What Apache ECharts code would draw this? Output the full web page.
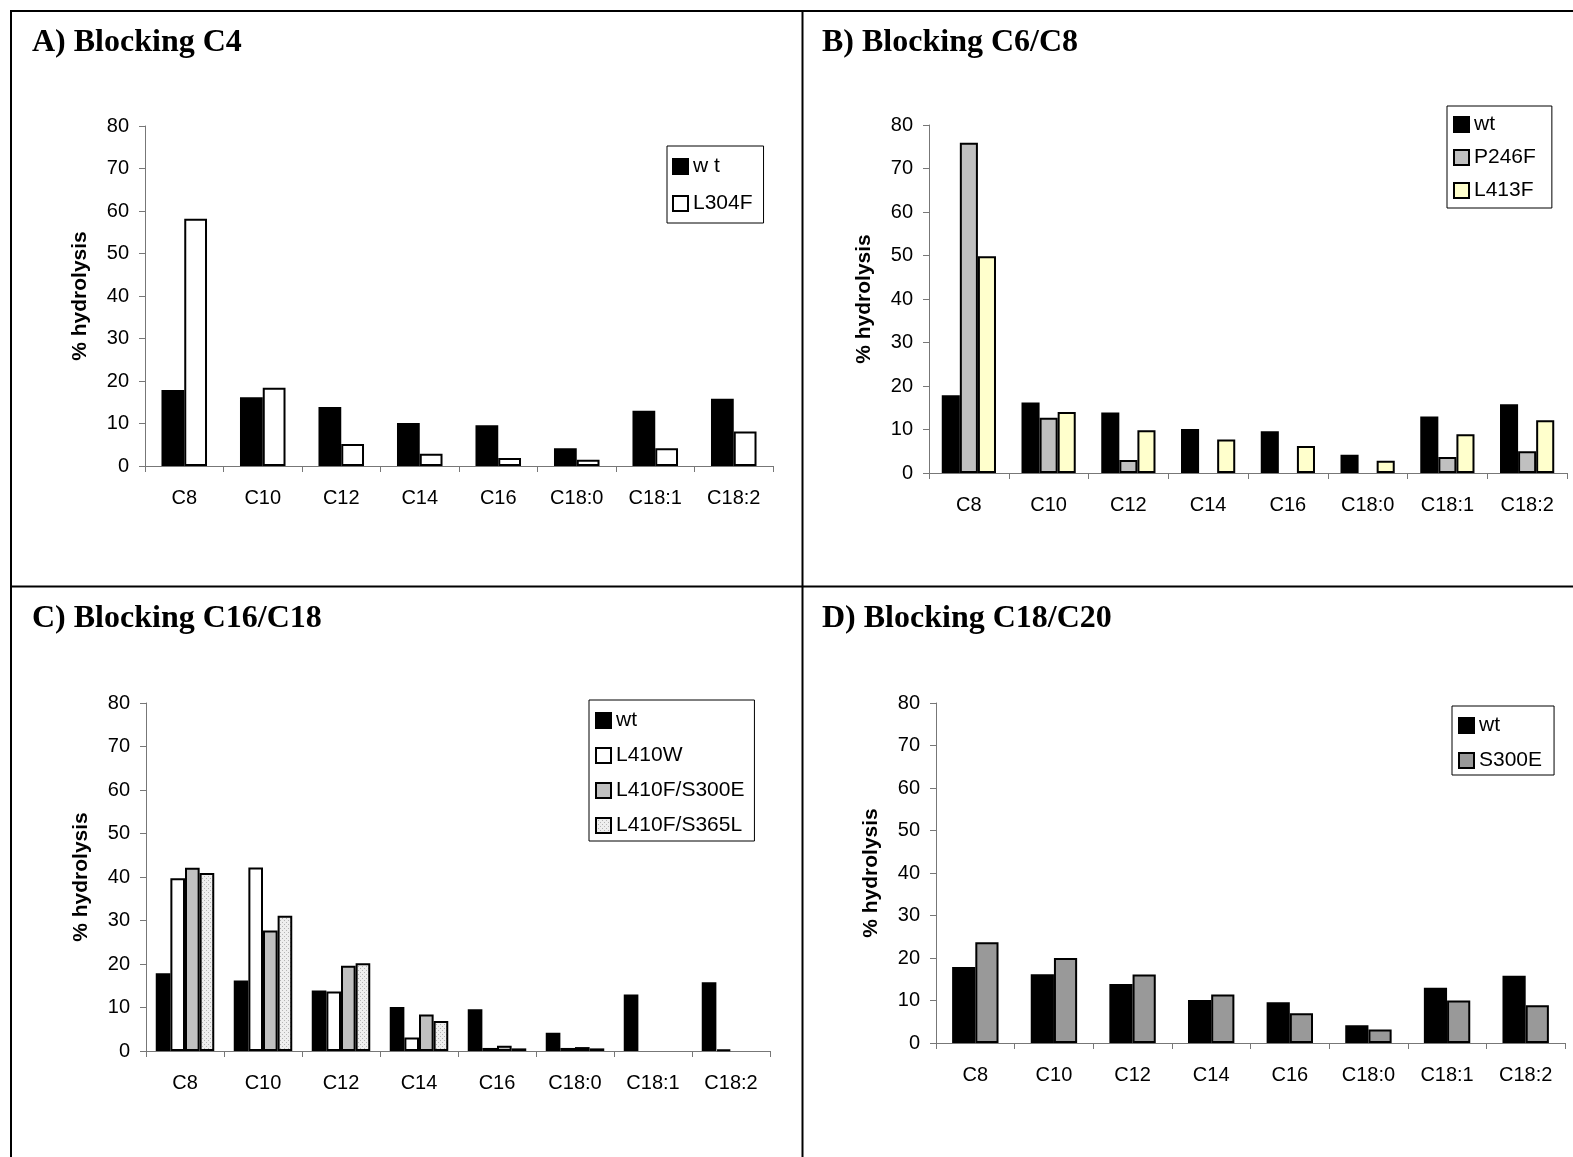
<!DOCTYPE html>
<html lang="en">
<head>
    <meta charset="UTF-8">
    <title>Blocking mutants - % hydrolysis</title>
    <script src="https://cdn.jsdelivr.net/npm/echarts@6/dist/echarts.min.js"></script>
    <style>
        html, body { margin: 0; padding: 0; background: #fff; }
        #chart { width: 1573px; height: 1157px; }
    </style>
</head>
<body>
<div id="chart"></div>
<script type="text/javascript">
    // categories and values
    var categories = ['C8', 'C10', 'C12', 'C14', 'C16', 'C18:0', 'C18:1', 'C18:2'];
    var yTicks = [0, 10, 20, 30, 40, 50, 60, 70, 80];

    var wt = [17.9, 16.2, 13.9, 10.1, 9.6, 4.2, 13.0, 15.8];
    var l304f = [58.2, 18.4, 5.2, 2.9, 1.9, 1.5, 4.2, 8.1];
    var p246f = [75.9, 12.7, 3.0, 0, 0, 0, 3.7, 5.0];
    var l413f = [49.8, 14.0, 9.8, 7.7, 6.2, 2.8, 8.9, 12.1];
    var l410w = [39.7, 42.2, 13.7, 3.1, 0.7, 0.7, 0, 0.3];
    var l410fS300e = [42.1, 27.7, 19.6, 8.4, 1.2, 0.9, 0, 0];
    var l410fS365l = [40.9, 31.1, 20.2, 6.9, 0.6, 0.6, 0, 0];
    var s300e = [23.7, 20.0, 16.1, 11.4, 7.0, 3.2, 10.0, 8.9];

    // dotted fill for L410F/S365L
    var dots = document.createElement('canvas');
    dots.width = 4; dots.height = 4;
    var dc = dots.getContext('2d');
    dc.fillStyle = '#eeeeee'; dc.fillRect(0, 0, 4, 4);
    dc.fillStyle = '#b4b4b4'; dc.fillRect(0, 0, 1, 1); dc.fillRect(2, 2, 1, 1);

    var sans = 'Liberation Sans';
    var serif = 'Liberation Serif';

    var grids = [
        {left: 145, top: 126, width: 628, height: 340},
        {left: 929, top: 125, width: 638, height: 348},
        {left: 146, top: 703, width: 624, height: 348},
        {left: 936, top: 703, width: 629, height: 340}
    ];
    var gaps = ['42%', '32%', '25%', '41%'];

    function xAxis(i) {
        return {
            type: 'category', gridIndex: i, data: categories,
            axisLine: {lineStyle: {color: '#777', width: 1}},
            axisTick: {show: true, length: 6, lineStyle: {color: '#777'}},
            axisLabel: {interval: 0, margin: 22, color: '#000', fontSize: 20, fontFamily: sans}
        };
    }
    function yAxis(i) {
        return {
            type: 'value', gridIndex: i, min: yTicks[0], max: yTicks[yTicks.length - 1], interval: 10,
            name: '% hydrolysis', nameLocation: 'middle', nameRotate: 90, nameGap: 54,
            nameTextStyle: {color: '#000', fontSize: 21, fontWeight: 'bold', fontFamily: sans},
            axisLine: {show: true, lineStyle: {color: '#777', width: 1}},
            axisTick: {show: true, length: 6, lineStyle: {color: '#777'}},
            splitLine: {show: false},
            axisLabel: {margin: 16, color: '#000', fontSize: 20, fontFamily: sans}
        };
    }
    function bar(name, data, i, color) {
        return {
            name: name, type: 'bar', xAxisIndex: i, yAxisIndex: i,
            data: data.map(function (v) { return v === 0 ? '-' : v; }),
            barGap: '0%', barCategoryGap: gaps[i],
            itemStyle: {color: color, borderColor: '#000', borderWidth: 2},
            emphasis: {disabled: true}
        };
    }
    function legend(names, left, top, pad, gap) {
        return {
            data: names, orient: 'vertical', left: left, top: top, padding: pad, itemGap: gap,
            itemWidth: 15, itemHeight: 15, icon: 'rect', selectedMode: false,
            borderColor: '#000', borderWidth: 1,
            itemStyle: {borderColor: '#000', borderWidth: 2},
            textStyle: {color: '#000', fontSize: 21, fontFamily: sans}
        };
    }
    function title(text, left, top) {
        return {text: text, left: left, top: top, padding: 0,
            textStyle: {color: '#000', fontSize: 32, fontWeight: 'bold', fontFamily: serif}};
    }

    var myChart = echarts.init(document.getElementById('chart'));
    var option = {
        backgroundColor: '#fff',
        animation: false,
        title: [
            title('A) Blocking C4', 32, 27),
            title('B) Blocking C6/C8', 822, 27),
            title('C) Blocking C16/C18', 32, 603),
            title('D) Blocking C18/C20', 822, 603)
        ],
        legend: [
            legend(['w t', 'L304F'], 667, 146, [10, 11, 9, 5], 16),
            legend(['wt', 'P246F', 'L413F'], 1447, 106, [8, 16, 7, 6], 12),
            legend(['wt', 'L410W', 'L410F/S300E', 'L410F/S365L'], 589, 700, [10, 10, 5, 6], 14),
            legend(['wt', 'S300E'], 1452, 706, [9, 12, 4, 6], 14)
        ],
        grid: grids,
        xAxis: [xAxis(0), xAxis(1), xAxis(2), xAxis(3)],
        yAxis: [yAxis(0), yAxis(1), yAxis(2), yAxis(3)],
        series: [
            bar('w t', wt, 0, '#000'),
            bar('L304F', l304f, 0, '#fff'),

            bar('wt', wt, 1, '#000'),
            bar('P246F', p246f, 1, '#c0c0c0'),
            bar('L413F', l413f, 1, '#ffffcc'),

            bar('wt', wt, 2, '#000'),
            bar('L410W', l410w, 2, '#fff'),
            bar('L410F/S300E', l410fS300e, 2, '#c0c0c0'),
            bar('L410F/S365L', l410fS365l, 2, {image: dots, repeat: 'repeat'}),

            bar('wt', wt, 3, '#000'),
            bar('S300E', s300e, 3, '#999999')
        ],
        // panel frame
        graphic: [
            {type: 'rect', shape: {x: 11, y: 11, width: 1600, height: 1200}, style: {fill: 'none', stroke: '#000', lineWidth: 2}, silent: true},
            {type: 'line', shape: {x1: 802.5, y1: 11, x2: 802.5, y2: 1157}, style: {stroke: '#000', lineWidth: 2}, silent: true},
            {type: 'line', shape: {x1: 11, y1: 586.5, x2: 1573, y2: 586.5}, style: {stroke: '#000', lineWidth: 2}, silent: true}
        ]
    };
    myChart.setOption(option);
</script>
</body>
</html>
